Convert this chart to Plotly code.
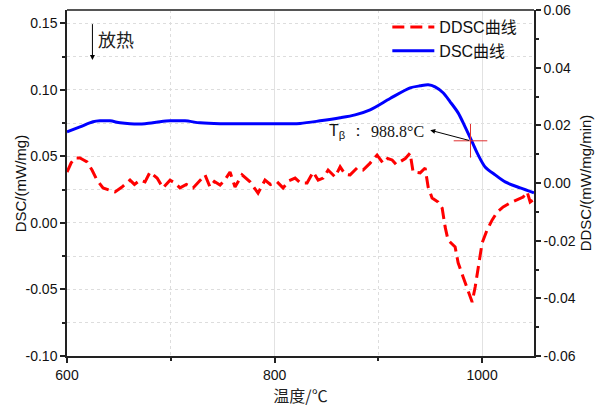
import plotly.graph_objects as go

# DSC curve (left axis)
dsc_T = [600, 612.5, 625.1, 631.8, 641.4, 651.1, 660.7, 675.2, 689.6, 699.3, 713.7, 728.2,
         747.5, 766.8, 795.7, 824.6, 843.9, 863.2, 877.6, 892.1, 911.3, 930.6, 940.3,
         948.0, 954.7, 962.4, 969.2, 976.9, 983.6, 990.4, 996.2, 1002.9, 1012.6, 1022.2,
         1036.7, 1050]
dsc_v = [0.0684, 0.0722, 0.0760, 0.0767, 0.0767, 0.0752, 0.0745, 0.0745, 0.0760, 0.0767,
         0.0767, 0.0752, 0.0745, 0.0745, 0.0745, 0.0748, 0.0767, 0.0790, 0.0812, 0.0850,
         0.0935, 0.1015, 0.1030, 0.1038, 0.1023, 0.0978, 0.0910, 0.0827, 0.0722, 0.0609,
         0.0511, 0.0421, 0.0361, 0.0308, 0.0263, 0.0226]

# DDSC curve (right axis)
ddsc_T = [600, 604, 607.7, 612.5, 616, 619.3, 624.1, 628.9, 634.7, 641.4, 646.3, 653.0,
          660.7, 665, 670.4, 675.2, 680.0, 686.8, 692.5, 699.3, 704, 708.9, 715, 721.5,
          727, 733.0, 737.8, 742, 747.5, 752, 757.1, 761.9, 768.7, 776.4, 784.1, 790.8,
          796, 802.4, 808.2, 814, 819.8, 825, 831.3, 837.1, 842, 846.8, 851.6, 858.3,
          863.2, 868, 872.8, 879.5, 885.3, 892.1, 898.8, 904.6, 909, 913.3, 917, 921.0,
          926, 930.6, 933.5, 940.3, 945.1, 948.0, 951.8, 957.6, 961.5, 964.4, 967.2,
          974.0, 976.9, 981.7, 986.5, 990.4, 993.3, 996.2, 1000.0, 1004.8, 1009.7,
          1014.5, 1020.3, 1027.0, 1033.8, 1039.5, 1043.4, 1046.3, 1049.2]
ddsc_v = [0.0038, 0.0070, 0.0087, 0.0087, 0.0080, 0.0073, 0.0045, 0.0010, -0.0017, -0.0024,
          -0.0031, -0.0014, 0.0010, -0.0005, 0.0010, 0.0004, 0.0038, 0.0017, -0.0017, 0.0010,
          0.0000, -0.0017, -0.0005, -0.0017, 0.0005, 0.0028, -0.0014, 0.0005, -0.0007, 0.0010,
          0.0038, -0.0014, 0.0028, 0.0004, -0.0035, 0.0010, -0.0005, 0.0004, -0.0017, 0.0008,
          0.0017, 0.0000, 0.0000, 0.0038, 0.0010, 0.0017, 0.0045, 0.0021, 0.0056, 0.0030,
          0.0028, 0.0052, 0.0045, 0.0069, 0.0097, 0.0069, 0.0085, 0.0080, 0.0065, 0.0073,
          0.0085, 0.0104, 0.0038, 0.0035, 0.0052, -0.0014, -0.0052, -0.0066, -0.0087,
          -0.0153, -0.0198, -0.0222, -0.0277, -0.0326, -0.0371, -0.0413, -0.0361, -0.0291,
          -0.0208, -0.0163, -0.0128, -0.0101, -0.0083, -0.0069, -0.0059, -0.0049, -0.0031,
          -0.0066, -0.0059]

T_beta = [988.8]
T_beta_v = [0.0617]

x_ticks = [600, 800, 1000]
y_ticks = [-0.10, -0.05, 0.00, 0.05, 0.10, 0.15]
y2_ticks = [-0.06, -0.04, -0.02, 0.00, 0.02, 0.04, 0.06]

SANS = "Liberation Sans, Arial, sans-serif"
SERIF = "Liberation Serif, Times New Roman, serif"
CJK = "Noto Sans CJK SC, sans-serif"

fig = go.Figure()
fig.add_trace(go.Scatter(
    x=ddsc_T, y=ddsc_v, yaxis="y2", mode="lines", name="DDSC曲线",
    line=dict(color="#ff0000", width=3, dash="12px,6px")))
fig.add_trace(go.Scatter(
    x=dsc_T, y=dsc_v, mode="lines", name="DSC曲线",
    line=dict(color="#0000ff", width=3, shape="spline", smoothing=0.8)))
fig.add_trace(go.Scatter(
    x=T_beta, y=T_beta_v, mode="markers", showlegend=False,
    marker=dict(symbol="cross-thin", size=24, line=dict(color="#e03030", width=1))))

fig.update_layout(
    width=600, height=412,
    margin=dict(l=67, r=66, t=10, b=56, autoexpand=False),
    paper_bgcolor="white", plot_bgcolor="white",
    showlegend=True,
    legend=dict(x=0.975, y=1.0, xanchor="right", yanchor="top",
                bgcolor="rgba(0,0,0,0)", font=dict(family=SANS + ", " + CJK, size=16, color="#111"),
                itemwidth=42, tracegroupgap=0),
    xaxis=dict(range=[600, 1050], tickvals=x_ticks, ticktext=[str(v) for v in x_ticks],
               ticks="outside", ticklen=5, tickwidth=1.5, tickcolor="#222",
               showline=True, linecolor="#222", linewidth=1.5, automargin=False,
               showgrid=True, gridcolor="#e2e2e2", gridwidth=1,
               minor=dict(tickvals=[700, 900], ticks="outside", ticklen=3, tickcolor="#222",
                          showgrid=True, gridcolor="#dddddd", griddash="dot"),
               tickfont=dict(family=SANS, size=14, color="#111"),
               title=dict(text="温度/℃", font=dict(family=CJK, size=16, color="#222"), standoff=6),
               zeroline=False),
    yaxis=dict(range=[-0.10, 0.16], tickvals=y_ticks,
               ticktext=["-0.10", "-0.05", "0.00", "0.05", "0.10", "0.15"],
               ticks="outside", ticklen=5, tickwidth=1.5, tickcolor="#222",
               showline=True, linecolor="#222", linewidth=1.5, automargin=False,
               showgrid=True, gridcolor="#dddddd", griddash="dot",
               minor=dict(dtick=0.025, tick0=0, ticks="outside", ticklen=3, tickcolor="#222",
                          showgrid=True, gridcolor="#dddddd", griddash="dot"),
               tickfont=dict(family=SANS, size=14, color="#111"),
               zeroline=False),
    yaxis2=dict(range=[-0.06, 0.06], overlaying="y", side="right", tickvals=y2_ticks,
                ticktext=["-0.06", "-0.04", "-0.02", "0.00", "0.02", "0.04", "0.06"],
                ticks="outside", ticklen=5, tickwidth=1.5, tickcolor="#222", automargin=False,
                showline=True, linecolor="#222", linewidth=1.5, showgrid=False,
                minor=dict(dtick=0.01, tick0=0, ticks="outside", ticklen=3, tickcolor="#222"),
                tickfont=dict(family=SANS, size=14, color="#111"),
                title=dict(text="DDSC/(mW/mg/min)", font=dict(family=SANS, size=15, color="#111"), standoff=6),
                zeroline=False),
)

# left axis title
fig.add_annotation(x=-0.1, y=0.5, xref="paper", yref="paper", text="DSC/(mW/mg)",
                   textangle=-90, showarrow=False, xanchor="center", yanchor="middle",
                   font=dict(family=SANS, size=15, color="#111"))

# top frame line
fig.add_shape(type="line", xref="paper", yref="paper", x0=0, x1=1, y0=1, y1=1,
              line=dict(color="#555555", width=2))

# exothermic arrow
fig.add_annotation(x=624.5, y=0.1225, ax=624.5, ay=0.1505, xref="x", yref="y", axref="x", ayref="y",
                   text="", showarrow=True, arrowhead=2, arrowsize=1, arrowwidth=1, arrowcolor="#000")
fig.add_annotation(x=628, y=0.1385, xref="x", yref="y", text="放热", showarrow=False,
                   xanchor="left", font=dict(family=CJK, size=18, color="#222"))

# T_beta label and arrow
fig.add_annotation(x=950, y=0.0697, ax=T_beta[0], ay=T_beta_v[0], xref="x", yref="y",
                   axref="x", ayref="y", text="", showarrow=True, arrowhead=2, arrowsize=1,
                   arrowwidth=1, arrowcolor="#000")
fig.add_annotation(x=851, y=0.0685, xref="x", yref="y", text="T<sub>β</sub> ：", showarrow=False,
                   xanchor="left", font=dict(family=SANS, size=16, color="#111"))
fig.add_annotation(x=891, y=0.0688, xref="x", yref="y", text="988.8°C", showarrow=False,
                   xanchor="left", font=dict(family=SERIF, size=16, color="#111"))

fig.write_html("out.html", config={"displayModeBar": False},
               post_script="document.body.style.margin='0';")
